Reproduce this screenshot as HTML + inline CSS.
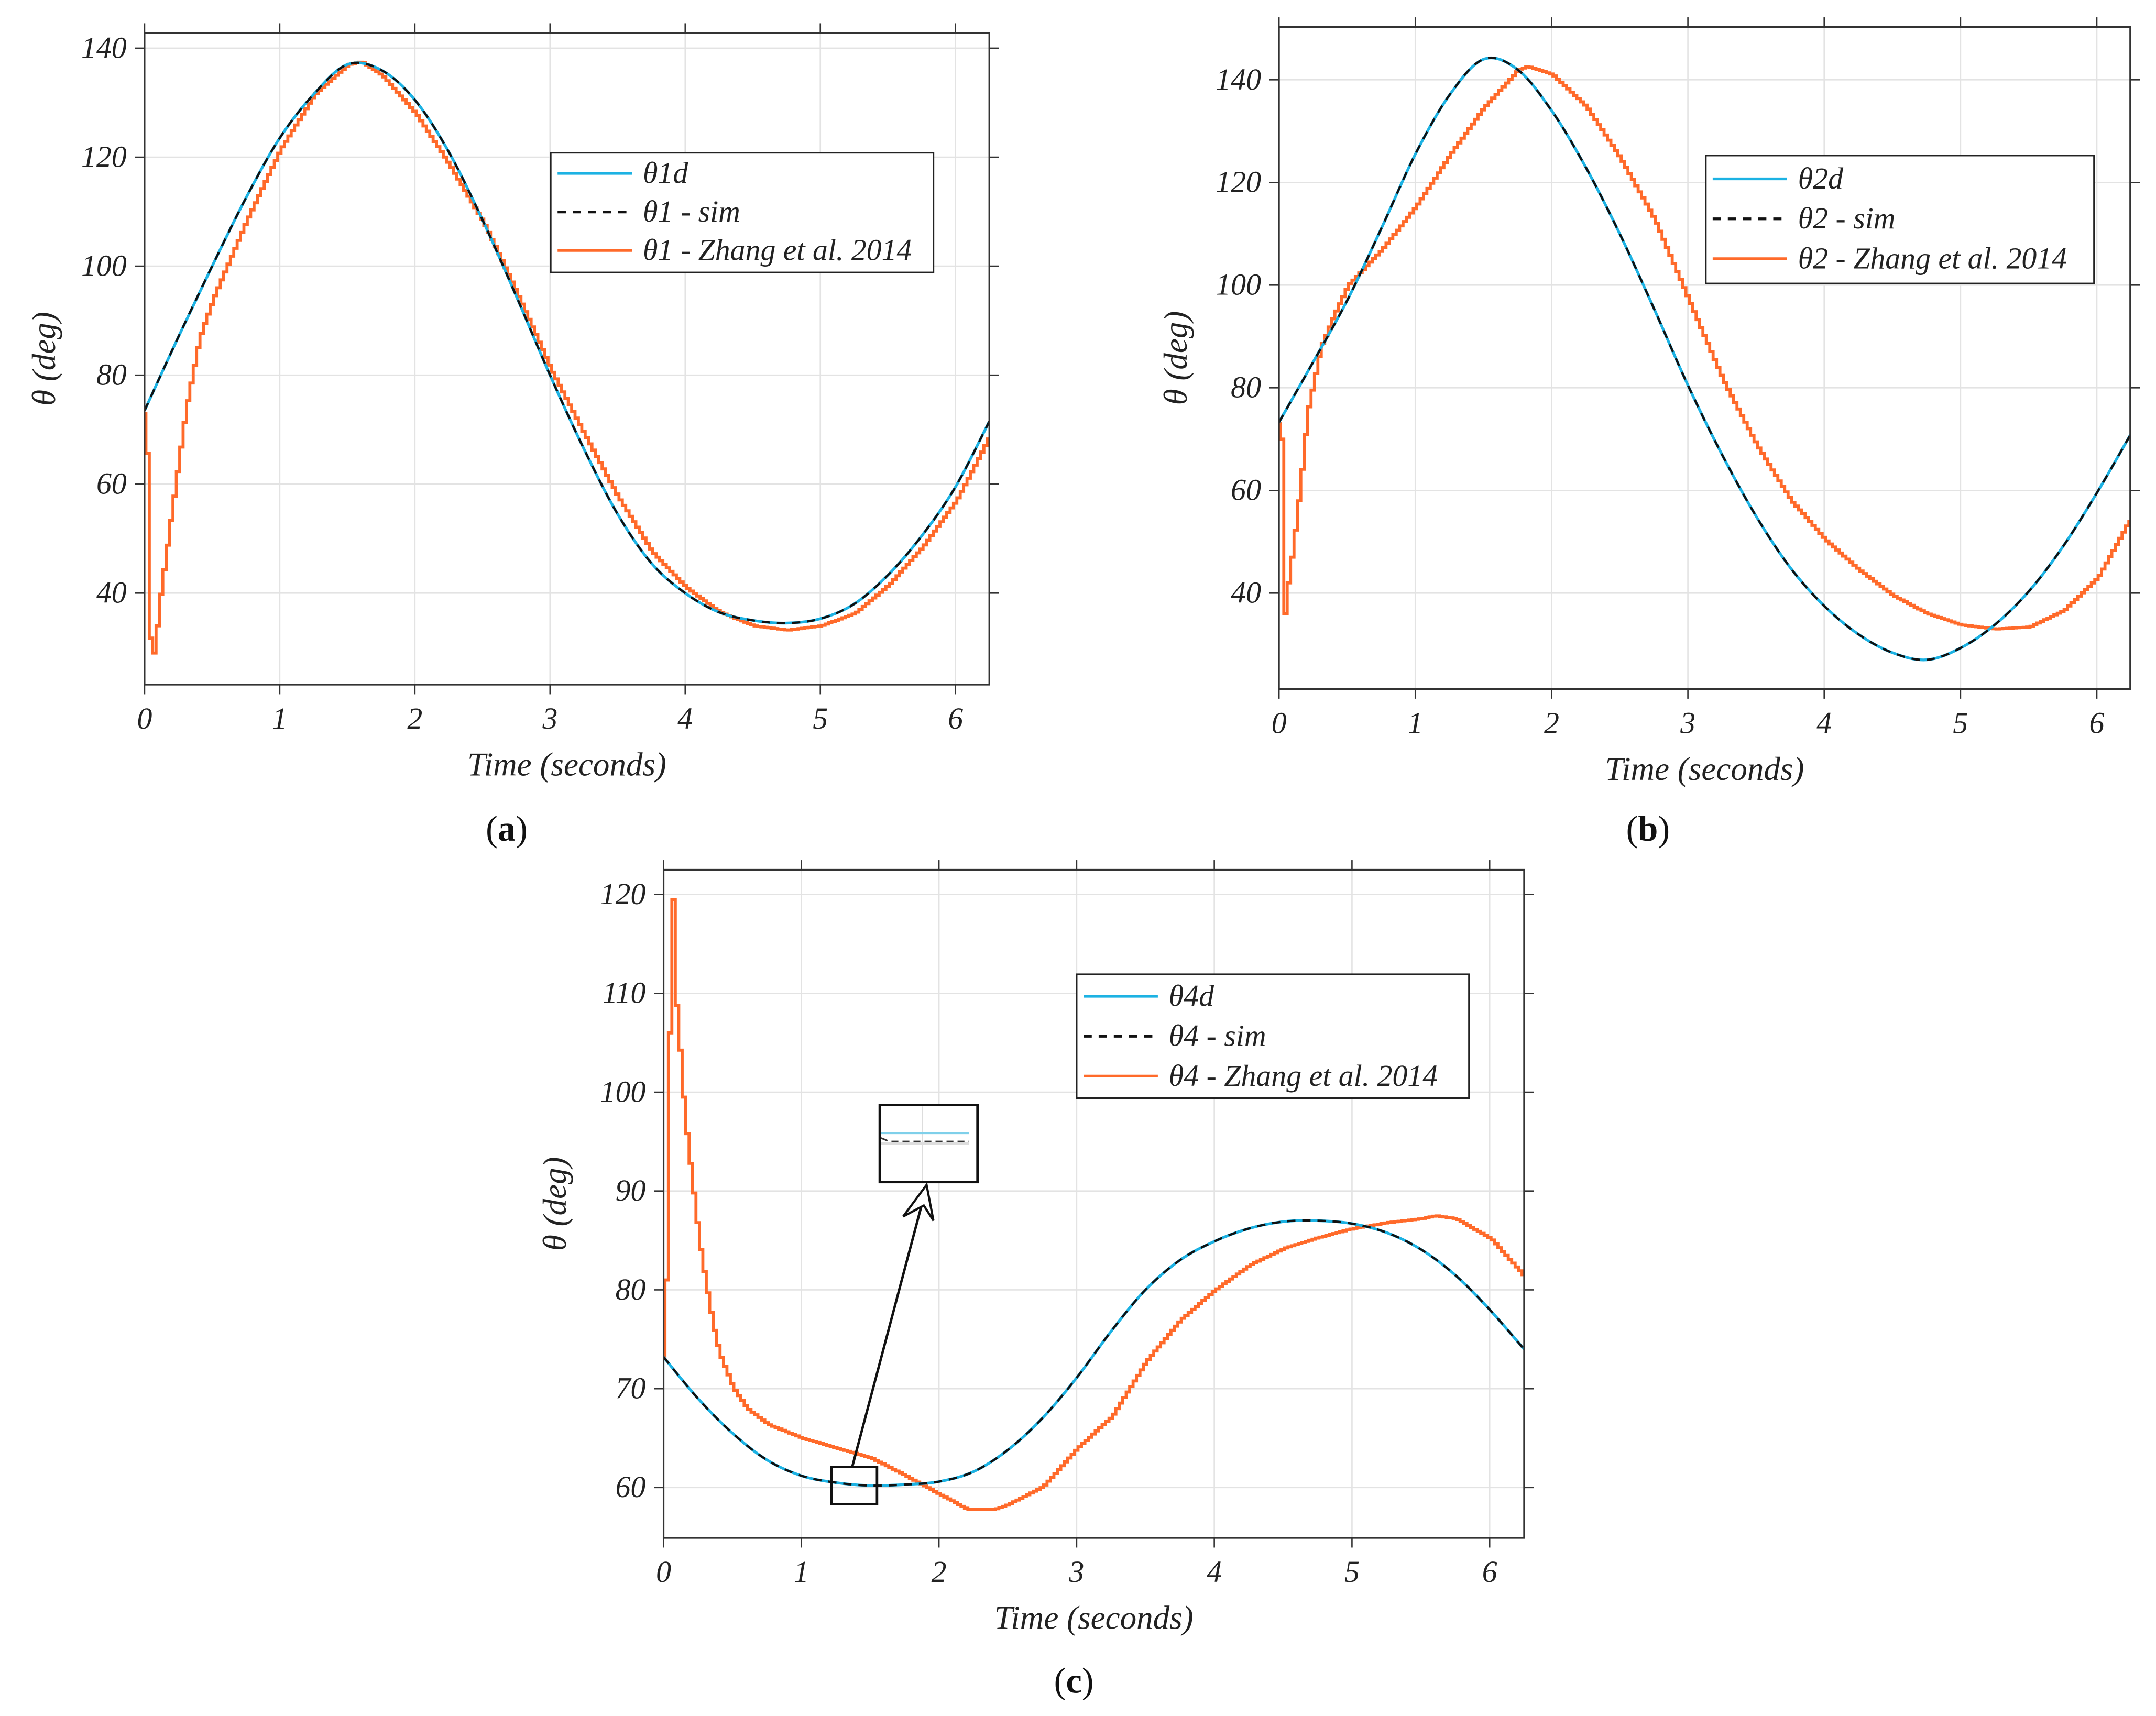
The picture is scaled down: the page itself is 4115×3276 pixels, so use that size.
<!DOCTYPE html>
<html><head><meta charset="utf-8">
<style>
html,body{margin:0;padding:0;background:#fff;}
svg{display:block;}
text{font-family:"Liberation Serif",serif;}
</style></head>
<body>
<svg id="fig" width="4115" height="3276" viewBox="0 0 1566 1247" preserveAspectRatio="none" xmlns="http://www.w3.org/2000/svg">
<rect x="0" y="0" width="1566" height="1247" fill="#fff"/>
</svg>
<script>
// ---------- data ----------
const tGrid = [0,0.25,0.5,0.75,1,1.25,1.5,1.75,2,2.25,2.5,2.75,3,3.25,3.5,3.75,4,4.25,4.5,4.75,5,5.25,5.5,5.75,6,6.25];
// panel a
const th1d   = [73.5,87,100,112.5,123.5,131.5,137,136,130.5,121,108.5,94.5,80,66.5,54.5,45.5,40,36.5,35,34.5,35.3,38,43.3,50.5,59.5,71.5];
const th1sim = [73.5,87,100,112.5,123.5,131.5,137,136,130.5,121,108.5,94.5,80,66.5,54.5,45.5,40,36.5,35,34.5,35.3,38,43.3,50.5,59.5,71.5];
const th1zT  = [0,0.015,0.03,0.05,0.07,0.1,0.15,0.2,0.3,0.4,0.5,0.75,1,1.25,1.5,1.6,1.75,2,2.25,2.5,2.75,3,3.25,3.5,3.75,4,4.25,4.5,4.75,5,5.25,5.5,5.75,6,6.25];
const th1zV  = [73,62,33,28,30,38,47,56,74,87,94,108.5,121.5,131.5,137,137.5,135,128,118.5,108,95,81,69,57.5,47.5,41,36.5,34,33.2,34,36.3,41.5,48.5,57,69];
// panel b
const th2d   = [73.3,85,97,111,125.5,137,144,142,134,123,110,95.5,80.5,67,55,45,37.5,32,28.4,27,29.3,33.8,40.3,49,59.5,71];
const th2sim = [73.3,85,97,111,125.5,137,144,142,134,123,110,95.5,80.5,67,55,45,37.5,32,28.4,27,29.3,33.8,40.3,49,59.5,71];
const th2zT  = [0,0.02,0.035,0.06,0.1,0.15,0.2,0.3,0.4,0.5,0.75,1,1.25,1.5,1.75,1.82,2,2.25,2.5,2.75,3,3.25,3.5,3.75,3.9,4,4.25,4.5,4.75,5,5.25,5.5,5.75,6,6.25];
const th2zV  = [73,67,36,42,50,61.4,75,88,94.4,100,107,115.4,125.5,134.7,142,142.6,141,134.7,124.6,112.7,97,81.5,68.7,58,53.5,50.4,44.5,39.5,36,33.8,33,33.4,36.6,43,55];
// panel c
const th4d   = [73.2,69,65.5,62.8,61.2,60.5,60.2,60.3,60.6,61.6,63.8,67,71.1,75.8,80,83,84.9,86.2,86.9,87,86.7,85.8,84.1,81.5,78,74];
const th4sim = [73.2,69,65.5,62.8,61.2,60.5,60.2,60.3,60.6,61.6,63.8,67,71.1,75.8,80,83,84.9,86.2,86.9,87,86.7,85.8,84.1,81.5,78,74];
const th4zT  = [0,0.01,0.03,0.05,0.07,0.08,0.1,0.12,0.15,0.2,0.25,0.3,0.35,0.4,0.5,0.6,0.75,1,1.25,1.5,1.75,2,2.2,2.4,2.5,2.75,3,3.25,3.5,3.75,4,4.25,4.5,4.75,5,5.25,5.5,5.6,5.75,6,6.25];
const th4zV  = [73.2,81,101.5,119.5,119.5,109.5,106.5,102,97,91,85,80.5,76.5,73.5,70,68,66.4,65,64,63,61.2,59.3,57.8,57.8,58.3,60.1,64,67.2,72.8,77,80,82.5,84.2,85.3,86.2,86.8,87.2,87.5,87.2,85.2,81.3];
const xTicks = [0,1,2,3,4,5,6];
const yTicksAB = [40,60,80,100,120,140];
const yTicksC = [60,70,80,90,100,110,120];

// ---------- rendering ----------
const NS = "http://www.w3.org/2000/svg";
const svg = document.getElementById('fig');
const BLUE = "#1cb2e3", ORANGE = "#ff6a2a";
function mk(tag, attrs, parent){const e=document.createElementNS(NS,tag);for(const k in attrs)e.setAttribute(k,attrs[k]);(parent||svg).appendChild(e);return e;}
function lin(xs,ys,t){if(t<=xs[0])return ys[0];for(let i=1;i<xs.length;i++){if(t<=xs[i]){const f=(t-xs[i-1])/(xs[i]-xs[i-1]);return ys[i-1]+f*(ys[i]-ys[i-1]);}}return ys[ys.length-1];}
function smoothPath(pts){let d=`M${pts[0][0]},${pts[0][1]}`;for(let i=0;i<pts.length-1;i++){const p0=pts[Math.max(0,i-1)],p1=pts[i],p2=pts[i+1],p3=pts[Math.min(pts.length-1,i+2)];const c1=[p1[0]+(p2[0]-p0[0])/6,p1[1]+(p2[1]-p0[1])/6],c2=[p2[0]-(p3[0]-p1[0])/6,p2[1]-(p3[1]-p1[1])/6];d+=` C${c1[0].toFixed(2)},${c1[1].toFixed(2)} ${c2[0].toFixed(2)},${c2[1].toFixed(2)} ${p2[0].toFixed(2)},${p2[1].toFixed(2)}`;}return d;}

function panel(cfg){
  const g=mk('g',{});
  
  
  const X=t=>cfg.x0+t*cfg.ux, Y=v=>cfg.yRef+(cfg.vRef-v)*cfg.uy;
  const L=X(0),R=X(cfg.tmax),T=Y(cfg.vmax),B=Y(cfg.vmin);
  const cid='clip-'+cfg.name;
  const cp=mk('clipPath',{id:cid},g);mk('rect',{x:L,y:T,width:R-L,height:B-T},cp);
  const grid=mk('g',{stroke:'#e3e3e3','stroke-width':1},g);
  
  
  xTicks.forEach(t=>mk('line',{x1:X(t),x2:X(t),y1:T,y2:B},grid));
  cfg.yt.forEach(v=>mk('line',{x1:L,x2:R,y1:Y(v),y2:Y(v)},grid));
  const ax=mk('g',{stroke:'#333','stroke-width':1},g);
  xTicks.forEach(t=>{
    mk('line',{x1:X(t),x2:X(t),y1:B,y2:B+7},ax);mk('line',{x1:X(t),x2:X(t),y1:T,y2:T-7},ax);
    const tx=mk('text',{x:X(t),y:B+32,'text-anchor':'middle','font-size':22,'font-style':'italic',fill:'#222'},g);tx.textContent=t;
    
    
  });
  cfg.yt.forEach(v=>{
    mk('line',{x1:L,x2:L-7,y1:Y(v),y2:Y(v)},ax);mk('line',{x1:R,x2:R+7,y1:Y(v),y2:Y(v)},ax);
    const tx=mk('text',{x:L-13,y:Y(v)+7,'text-anchor':'end','font-size':22,'font-style':'italic',fill:'#222'},g);tx.textContent=v;
    
    
  });
  const sg=mk('g',{'clip-path':`url(#${cid})`,fill:'none'},g);
  const dpts=tGrid.map((t,i)=>[X(t),Y(cfg.d[i])]);
  const spts=tGrid.map((t,i)=>[X(t),Y(cfg.s[i])]);
  let sd=`M${X(0)},${Y(cfg.zV[0])}`;
  for(let t=0.01;t<=cfg.tmax+0.011;t+=0.025){sd+=` H${X(t).toFixed(2)} V${Y(lin(cfg.zT,cfg.zV,t)).toFixed(2)}`;}
  const po=mk('path',{d:sd,stroke:ORANGE,'stroke-width':2.2},sg);
  
  
  const pb=mk('path',{d:smoothPath(dpts),stroke:BLUE,'stroke-width':2},sg);
  
  
  const pk=mk('path',{d:smoothPath(spts),stroke:'#111','stroke-width':1.6,'stroke-dasharray':'6 5'},sg);
  
  
  const fr=mk('rect',{x:L,y:T,width:R-L,height:B-T,fill:'none',stroke:'#333','stroke-width':1.2},g);
  
  
  const xt=mk('text',{x:(L+R)/2,y:B+66,'text-anchor':'middle','font-size':24,'font-style':'italic',fill:'#222'},g);xt.textContent='Time (seconds)';
  
  
  const yc=(T+B)/2, yx=cfg.ylx;
  const yt=mk('text',{x:yx,y:yc,'text-anchor':'middle','font-size':24,'font-style':'italic',fill:'#222',transform:`rotate(-90 ${yx} ${yc})`},g);yt.textContent='θ (deg)';
  
  
  const lg=mk('g',{},g);
  
  
  const Lb=cfg.leg;
  mk('rect',{x:Lb.x,y:Lb.y,width:Lb.w,height:Lb.h,fill:'#fff',stroke:'#222','stroke-width':1.2},lg);
  const rows=[[BLUE,null,cfg.lab[0]],['#111','6 5',cfg.lab[1]],[ORANGE,null,cfg.lab[2]]];
  rows.forEach((r,i)=>{
    const yy=Lb.rows[i];
    const ln=mk('line',{x1:Lb.x+5,x2:Lb.x+59,y1:yy,y2:yy,stroke:r[0],'stroke-width':2},lg);if(r[1])ln.setAttribute('stroke-dasharray',r[1]);
    const tx=mk('text',{x:Lb.x+67,y:yy+7,'font-size':22,'font-style':'italic',fill:'#222'},lg);tx.textContent=r[2];
    
    
  });
  const cap=mk('text',{x:cfg.cap[0],y:cfg.cap[1],'text-anchor':'middle','font-size':26,fill:'#111'},g);
  cap.innerHTML=`(<tspan font-weight="bold">${cfg.capL}</tspan>)`;
  
  
  return {g,X,Y};
}

panel({name:'panel-a',x0:105,ux:98.17,yRef:35,vRef:140,uy:3.96,tmax:6.25,vmin:23.2,vmax:142.8,yt:yTicksAB,
  d:th1d,s:th1sim,zT:th1zT,zV:th1zV,ylx:40,
  leg:{x:400,y:111,w:278,h:87,rows:[126,154,182]},lab:['θ1d','θ1 - sim','θ1 - Zhang et al. 2014'],cap:[368,611],capL:'a'});
panel({name:'panel-b',x0:929,ux:99,yRef:58,vRef:140,uy:3.73,tmax:6.245,vmin:21.3,vmax:150.3,yt:yTicksAB,
  d:th2d,s:th2sim,zT:th2zT,zV:th2zV,ylx:862,
  leg:{x:1239,y:113,w:282,h:93,rows:[130,159,188]},lab:['θ2d','θ2 - sim','θ2 - Zhang et al. 2014'],cap:[1197,611],capL:'b'});
const pc=panel({name:'panel-c',x0:482,ux:100,yRef:650,vRef:120,uy:7.183,tmax:6.25,vmin:54.9,vmax:122.5,yt:yTicksC,
  d:th4d,s:th4sim,zT:th4zT,zV:th4zV,ylx:411,
  leg:{x:782,y:708,w:285,h:90,rows:[724,753,782]},lab:['θ4d','θ4 - sim','θ4 - Zhang et al. 2014'],cap:[780,1230],capL:'c'});

const ann=mk('g',{},pc.g);


mk('rect',{x:604,y:1066,width:33,height:27,fill:'none',stroke:'#111','stroke-width':1.8},ann);
mk('rect',{x:639,y:803,width:71,height:56,fill:'#fff',stroke:'#111','stroke-width':1.8},ann);
mk('line',{x1:670,x2:670,y1:804,y2:858,stroke:'#ddd','stroke-width':1},ann);
mk('line',{x1:640,x2:704,y1:831,y2:831,stroke:'#ddd','stroke-width':2},ann);
mk('line',{x1:640,x2:704,y1:823.5,y2:823.5,stroke:'#7fd0ea','stroke-width':1.3},ann);
mk('path',{d:'M640,827 L646,829.5 H704',fill:'none',stroke:'#333','stroke-width':1.2,'stroke-dasharray':'5 3'},ann);
mk('line',{x1:619,y1:1066,x2:672,y2:866,stroke:'#111','stroke-width':1.8},ann);
mk('path',{d:'M673,861 L656,884 L671,876 L678,887 Z',fill:'#fff',stroke:'#111','stroke-width':1.6},ann);
</script>
</body></html>
